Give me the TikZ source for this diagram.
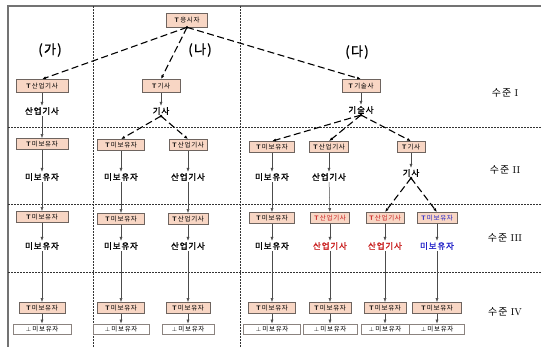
\documentclass[tikz,border=0pt]{standalone}
\usepackage{fontspec}
\newfontfamily\kr{Noto Sans CJK KR}[AutoFakeBold=1.5, LetterSpace=10]
\usetikzlibrary{arrows.meta}
\definecolor{peach}{RGB}{248,214,196}
\definecolor{boxline}{RGB}{110,100,95}
\definecolor{redtxt}{RGB}{200,30,30}
\definecolor{bluetxt}{RGB}{35,35,200}
\tikzset{
	tbox/.style={draw=boxline, fill=peach, line width=0.7pt, minimum height=11pt, inner sep=1pt,
		font=\kr\fontsize{6.5}{7.5}\selectfont},
	pbox/.style={draw=boxline!80, fill=white, line width=0.7pt, minimum height=10pt, inner sep=1pt,
		font=\kr\fontsize{6.5}{7.5}\selectfont},
	lab/.style={inner sep=1pt, font=\kr\bfseries\fontsize{8.5}{10}\selectfont},
	lvl/.style={font=\fontsize{10}{12}\selectfont},
	head/.style={font=\kr\bfseries\fontsize{13}{15}\selectfont},
	sarr/.style={draw=black!70, line width=0.5pt, -{Latex[length=4pt,width=3pt]}},
	darr/.style={draw=black, line width=1.1pt, dash pattern=on 7pt off 3.5pt, -{Latex[length=4pt,width=3pt]}},
	sep/.style={draw=black!80, line width=0.6pt, dash pattern=on 2pt off 1pt}
}
\newcommand{\Tx}[1]{\textsf{\textbf{T}}\,#1}
\newcommand{\Px}[1]{$\perp$\,#1}
\begin{document}
\begin{tikzpicture}[x=1pt,y=-1pt]
	\useasboundingbox (0,0) rectangle (541,347);

	% frame and separators
	\draw[black!55, line width=1.5pt] (8,347) -- (8,6) -- (541,6);
	\draw[sep] (93,6) -- (93,347);
	\draw[sep] (240,6) -- (240,347);
	\draw[sep] (8,127) -- (541,127);
	\draw[sep] (8,204) -- (541,204);
	\draw[sep] (8,272) -- (541,272);

	\node[head] (ga) at (50,50) {(가)};
	\node[head] (na) at (200,50) {(나)};
	\node[head] (da) at (357,52) {(다)};

	\node[lvl] (lv1) at (505,93) {{\kr 수준}~I};
	\node[lvl] (lv2) at (505,170) {{\kr 수준}~II};
	\node[lvl] (lv3) at (505,238) {{\kr 수준}~III};
	\node[lvl] (lv4) at (505,312) {{\kr 수준}~IV};

	% level I
	\node[tbox, minimum width=41pt, minimum height=14pt] (root) at (187,20) {\Tx{응시자}};
	\node[tbox, minimum width=52pt, minimum height=13pt] (a1) at (42,86) {\Tx{산업기사}};
	\node[tbox, minimum width=38pt, minimum height=13pt] (b1) at (161,86) {\Tx{기사}};
	\node[tbox, minimum width=38pt, minimum height=13pt] (c1) at (361,86) {\Tx{기술사}};
	\node[lab] (ta1) at (42,111) {산업기사};
	\node[lab] (tb1) at (161,111) {기사};
	\node[lab] (tc1) at (361,110) {기술사};

	% level II
	\node[tbox, minimum width=52pt] (a2) at (42,144) {\Tx{미보유자}};
	\node[tbox, minimum width=47pt] (b2) at (121,145) {\Tx{미보유자}};
	\node[tbox, minimum width=38pt] (b3) at (188,145) {\Tx{산업기사}};
	\node[tbox, minimum width=45pt] (c2) at (272,147) {\Tx{미보유자}};
	\node[tbox, minimum width=39pt] (c3) at (329,147) {\Tx{산업기사}};
	\node[tbox, minimum width=28pt] (c4) at (411,147) {\Tx{기사}};
	\node[lab] (ta2) at (42,177) {미보유자};
	\node[lab] (tb2) at (121,177) {미보유자};
	\node[lab] (tb3) at (188,177) {산업기사};
	\node[lab] (tc2) at (272,177) {미보유자};
	\node[lab] (tc3) at (329,177) {산업기사};
	\node[lab] (tc4) at (411,173) {기사};

	% level III
	\node[tbox, minimum width=52pt] (a3) at (42,217) {\Tx{미보유자}};
	\node[tbox, minimum width=47pt] (b4) at (121,219) {\Tx{미보유자}};
	\node[tbox, minimum width=40pt] (b5) at (188,219) {\Tx{산업기사}};
	\node[tbox, minimum width=45pt] (c5) at (272,218) {\Tx{미보유자}};
	\node[tbox, minimum width=39pt, text=redtxt] (c6) at (330,218) {\Tx{산업기사}};
	\node[tbox, minimum width=38pt, text=redtxt] (c7) at (385,218) {\Tx{산업기사}};
	\node[tbox, minimum width=40pt, text=bluetxt] (c8) at (437,218) {\Tx{미보유자}};
	\node[lab] (ta3) at (42,246) {미보유자};
	\node[lab] (tb4) at (121,246) {미보유자};
	\node[lab] (tb5) at (188,246) {산업기사};
	\node[lab] (tc5) at (272,246) {미보유자};
	\node[lab, text=redtxt] (tc6) at (330,246) {산업기사};
	\node[lab, text=redtxt] (tc7) at (385,246) {산업기사};
	\node[lab, text=bluetxt] (tc8) at (437,246) {미보유자};

	% level IV
	\node[tbox, minimum width=46pt] (a4) at (42,308) {\Tx{미보유자}};
	\node[tbox, minimum width=47pt] (b6) at (121,308) {\Tx{미보유자}};
	\node[tbox, minimum width=44pt] (b7) at (188,308) {\Tx{미보유자}};
	\node[tbox, minimum width=47pt] (c9) at (272,308) {\Tx{미보유자}};
	\node[tbox, minimum width=42pt] (c10) at (330,308) {\Tx{미보유자}};
	\node[tbox, minimum width=42pt] (c11) at (385,308) {\Tx{미보유자}};
	\node[tbox, minimum width=49pt] (c12) at (437,308) {\Tx{미보유자}};
	\node[pbox, minimum width=58pt] (a5) at (42,329) {\Px{미보유자}};
	\node[pbox, minimum width=56pt] (b8) at (121,329) {\Px{미보유자}};
	\node[pbox, minimum width=52pt] (b9) at (188,329) {\Px{미보유자}};
	\node[pbox, minimum width=57pt] (c13) at (272,329) {\Px{미보유자}};
	\node[pbox, minimum width=54pt] (c14) at (330,329) {\Px{미보유자}};
	\node[pbox, minimum width=48pt] (c15) at (385,329) {\Px{미보유자}};
	\node[pbox, minimum width=55pt] (c16) at (437,329) {\Px{미보유자}};

	% dashed branches
	\fill (root.south) circle (1.5pt);
	\draw[darr] (root.south) -- (a1.north);
	\draw[darr] (root.south) -- (b1.north);
	\draw[darr] (root.south) -- (c1.north);
	\fill (tb1.south) circle (1.5pt);
	\draw[darr] (tb1.south) -- (b2.north);
	\draw[darr] (tb1.south) -- (b3.north);
	\fill (tc1.south) circle (1.5pt);
	\draw[darr] (tc1.south) -- (c2.north);
	\draw[darr] (tc1.south) -- (c3.north);
	\draw[darr] (tc1.south) -- (c4.north);
	\fill (tc4.south) circle (1.5pt);
	\draw[darr] (tc4.south) -- (c7.north);
	\draw[darr] (tc4.south) -- (c8.north);

	% box to text
	\draw[sarr] (a1) -- (ta1);
	\draw[sarr] (b1) -- (tb1);
	\draw[sarr] (c1) -- (tc1);
	\draw[sarr] (a2) -- (ta2);
	\draw[sarr] (b2) -- (tb2);
	\draw[sarr] (b3) -- (tb3);
	\draw[sarr] (c2) -- (tc2);
	\draw[sarr] (c3) -- (tc3);
	\draw[sarr] (c4) -- (tc4);
	\draw[sarr] (a3) -- (ta3);
	\draw[sarr] (b4) -- (tb4);
	\draw[sarr] (b5) -- (tb5);
	\draw[sarr] (c5) -- (tc5);
	\draw[sarr] (c6) -- (tc6);
	\draw[sarr] (c7) -- (tc7);
	\draw[sarr] (c8) -- (tc8);

	% text to next level
	\draw[sarr] (ta1) -- (a2);
	\draw[sarr] (ta2) -- (a3);
	\draw[sarr] (tb2) -- (b4);
	\draw[sarr] (tb3) -- (b5);
	\draw[sarr] (tc2) -- (c5);
	\draw[sarr] (tc3) -- (c6);
	\draw[sarr] (ta3) -- (a4);
	\draw[sarr] (tb4) -- (b6);
	\draw[sarr] (tb5) -- (b7);
	\draw[sarr] (tc5) -- (c9);
	\draw[sarr] (tc6) -- (c10);
	\draw[sarr] (tc7) -- (c11);
	\draw[sarr] (tc8) -- (c12);

	% last step
	\draw[sarr] (a4) -- (a5);
	\draw[sarr] (b6) -- (b8);
	\draw[sarr] (b7) -- (b9);
	\draw[sarr] (c9) -- (c13);
	\draw[sarr] (c10) -- (c14);
	\draw[sarr] (c11) -- (c15);
	\draw[sarr] (c12) -- (c16);

\end{tikzpicture}
\end{document}
